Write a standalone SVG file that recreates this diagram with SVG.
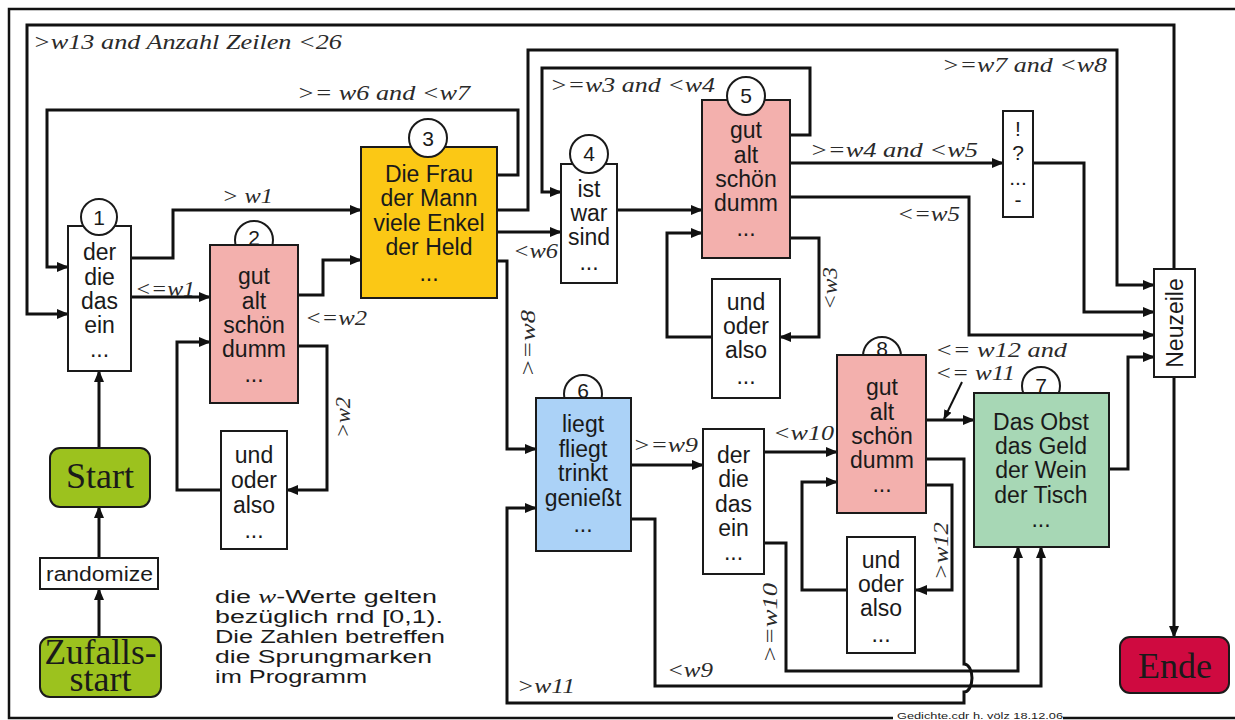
<svg xmlns="http://www.w3.org/2000/svg" width="1235" height="720" viewBox="0 0 1235 720">
<defs>
<marker id="ah" viewBox="0 0 12 10" refX="11" refY="5" markerWidth="12" markerHeight="10" markerUnits="userSpaceOnUse" orient="auto"><path d="M0,0L12,5L0,10z" fill="#111"/></marker>
<marker id="ah2" viewBox="0 0 10 8" refX="9" refY="4" markerWidth="10" markerHeight="8" markerUnits="userSpaceOnUse" orient="auto"><path d="M0,0L10,4L0,8z" fill="#111"/></marker>
</defs>
<style>
.c{fill:none;stroke:#111;stroke-width:3;marker-end:url(#ah)}
.b{stroke:#1a1a1a;stroke-width:2}
.t{font-family:"Liberation Sans",Arial,sans-serif;font-size:23px;fill:#1a1a1a;text-anchor:middle}
.n{font-family:"Liberation Sans",Arial,sans-serif;font-size:21px;fill:#1a1a1a;text-anchor:middle}
.l{font-family:"Liberation Serif","Times New Roman",serif;font-style:italic;font-size:22px;fill:#2a2a2a}
.s{font-family:"Liberation Serif","Times New Roman",serif;font-size:36px;fill:#1a1a1a;text-anchor:middle}
.note{font-family:"Liberation Sans",Arial,sans-serif;font-size:18px;fill:#1a1a1a}
.w{fill:#fff}
.pk{fill:#f3b0ad}
.ci{fill:#fff;stroke:#1a1a1a;stroke-width:2}
.gr{fill:#9cc21e}
</style>
<rect width="1235" height="720" fill="#fff"/>
<g id="frame" fill="none" stroke="#111" stroke-width="2.5">
<path d="M1235,9 H9 V718 H893 M1063,718 H1235"/>
</g>
<text x="897" y="719" font-family="Liberation Sans, Arial, sans-serif" font-size="9" fill="#222" textLength="166" lengthAdjust="spacingAndGlyphs">Gedichte.cdr   h. völz   18.12.06</text>

<g id="connectors">
<path class="c" d="M1174,269 V25 H27 V314 H68"/>
<path class="c" d="M497,175 H518 V110 H47 V267 H68"/>
<path class="c" d="M131,258 H173 V210 H361"/>
<path class="c" d="M131,297 H210"/>
<path class="c" d="M99,448 V371"/>
<path class="c" d="M99,557 V507"/>
<path class="c" d="M99,637 V589"/>
<path class="c" d="M298,295 H323 V260 H361"/>
<path class="c" d="M298,346 H327 V490 H287"/>
<path class="c" d="M221,490 H177 V342 H210"/>
<path class="c" d="M497,232 H561"/>
<path class="c" d="M497,210 H528 V50 H1117 V285 H1154"/>
<path class="c" d="M790,135 H810 V68 H542 V192 H561"/>
<path class="c" d="M617,210 H702"/>
<path class="c" d="M790,163 H1003"/>
<path class="c" d="M1033,163 H1084 V312 H1154"/>
<path class="c" d="M790,197 H969 V335 H1154"/>
<path class="c" d="M790,238 H819 V337 H780"/>
<path class="c" d="M712,337 H667 V233 H702"/>
<path class="c" d="M497,261 H507 V449 H536"/>
<path class="c" d="M631,465 H703"/>
<path class="c" d="M764,452 H837"/>
<path class="c" d="M764,543 H786 V671 H1018 V547"/>
<path class="c" d="M631,519 H655 V686 H1041 V547"/>
<path class="c" d="M926,459 H964 V664 A8 14 0 0 1 964 692 V703 H507 V508 H536"/>
<path class="c" d="M926,420 H974"/>
<path d="M962,382 L944,419" fill="none" stroke="#111" stroke-width="2" marker-end="url(#ah2)"/>
<path class="c" d="M926,485 H952 V590 H916"/>
<path class="c" d="M847,590 H802 V482 H837"/>
<path class="c" d="M1109,469 H1128 V357 H1154"/>
<path class="c" d="M1174,377 V637"/>
</g>

<g id="labels">
<text class="l" x="33" y="49" textLength="309" lengthAdjust="spacingAndGlyphs">&gt;w13 and Anzahl Zeilen &lt;26</text>
<text class="l" x="297" y="100" textLength="173" lengthAdjust="spacingAndGlyphs">&gt;= w6 and &lt;w7</text>
<text class="l" x="222" y="203" textLength="51" lengthAdjust="spacingAndGlyphs">&gt; w1</text>
<text class="l" x="135" y="296" textLength="60" lengthAdjust="spacingAndGlyphs">&lt;=w1</text>
<text class="l" x="305" y="325" textLength="62" lengthAdjust="spacingAndGlyphs">&lt;=w2</text>
<text class="l" transform="translate(350,438) rotate(-90)" textLength="41" lengthAdjust="spacingAndGlyphs">&gt;w2</text>
<text class="l" x="513" y="258" textLength="45" lengthAdjust="spacingAndGlyphs">&lt;w6</text>
<text class="l" x="550" y="92" textLength="165" lengthAdjust="spacingAndGlyphs">&gt;=w3 and &lt;w4</text>
<text class="l" x="942" y="72" textLength="165" lengthAdjust="spacingAndGlyphs">&gt;=w7 and &lt;w8</text>
<text class="l" x="810" y="157" textLength="168" lengthAdjust="spacingAndGlyphs">&gt;=w4 and &lt;w5</text>
<text class="l" x="897" y="221" textLength="63" lengthAdjust="spacingAndGlyphs">&lt;=w5</text>
<text class="l" transform="translate(837,310) rotate(-90)" textLength="43" lengthAdjust="spacingAndGlyphs">&lt;w3</text>
<text class="l" transform="translate(535,377) rotate(-90)" textLength="67" lengthAdjust="spacingAndGlyphs">&gt;=w8</text>
<text class="l" x="633" y="452" textLength="65" lengthAdjust="spacingAndGlyphs">&gt;=w9</text>
<text class="l" x="773" y="440" textLength="61" lengthAdjust="spacingAndGlyphs">&lt;w10</text>
<text class="l" x="935" y="357" textLength="132" lengthAdjust="spacingAndGlyphs">&lt;= w12 and</text>
<text class="l" x="935" y="380" textLength="80" lengthAdjust="spacingAndGlyphs">&lt;= w11</text>
<text class="l" transform="translate(948,580) rotate(-90)" textLength="58" lengthAdjust="spacingAndGlyphs">&gt;w12</text>
<text class="l" transform="translate(777,663) rotate(-90)" textLength="80" lengthAdjust="spacingAndGlyphs">&gt;=w10</text>
<text class="l" x="667" y="677" textLength="46" lengthAdjust="spacingAndGlyphs">&lt;w9</text>
<text class="l" x="517" y="693" textLength="58" lengthAdjust="spacingAndGlyphs">&gt;w11</text>
</g>

<g id="n1">
<rect class="w b" x="68" y="226" width="63" height="145"/>
<circle class="ci" cx="99" cy="217" r="18"/>
<text class="n" x="99" y="225">1</text>
<text class="t" x="99.5" y="260">der</text>
<text class="t" x="99.5" y="285">die</text>
<text class="t" x="99.5" y="309">das</text>
<text class="t" x="99.5" y="333">ein</text>
<text class="t" x="99.5" y="357">...</text>
</g>
<g id="n2">
<circle class="ci" cx="254" cy="240" r="19"/>
<rect class="pk b" x="210" y="245" width="88" height="158"/>
<text class="n" x="254" y="245">2</text>
<text class="t" x="254" y="284">gut</text>
<text class="t" x="254" y="309">alt</text>
<text class="t" x="254" y="333">schön</text>
<text class="t" x="254" y="357">dumm</text>
<text class="t" x="254" y="382">...</text>
</g>
<g id="und1">
<rect class="w b" x="221" y="431" width="66" height="118"/>
<text class="t" x="254" y="463">und</text>
<text class="t" x="254" y="488">oder</text>
<text class="t" x="254" y="513">also</text>
<text class="t" x="254" y="538">...</text>
</g>
<g id="n3">
<rect class="b" fill="#fbc815" x="361" y="147" width="136" height="151"/>
<circle class="ci" cx="428" cy="138" r="19"/>
<text class="n" x="428" y="146">3</text>
<text class="t" x="429" y="182">Die Frau</text>
<text class="t" x="429" y="206">der Mann</text>
<text class="t" x="429" y="231">viele Enkel</text>
<text class="t" x="429" y="255">der Held</text>
<text class="t" x="429" y="281">...</text>
</g>
<g id="n4">
<rect class="w b" x="561" y="164" width="56" height="119"/>
<circle class="ci" cx="589" cy="154" r="19"/>
<text class="n" x="589" y="161">4</text>
<text class="t" x="589" y="197">ist</text>
<text class="t" x="589" y="221">war</text>
<text class="t" x="589" y="245">sind</text>
<text class="t" x="589" y="270">...</text>
</g>
<g id="n5">
<rect class="pk b" x="702" y="100" width="88" height="158"/>
<circle class="ci" cx="746" cy="96" r="19"/>
<text class="n" x="746" y="103">5</text>
<text class="t" x="746" y="138">gut</text>
<text class="t" x="746" y="163">alt</text>
<text class="t" x="746" y="187">schön</text>
<text class="t" x="746" y="211">dumm</text>
<text class="t" x="746" y="236">...</text>
</g>
<g id="und2">
<rect class="w b" x="712" y="279" width="68" height="119"/>
<text class="t" x="746" y="310">und</text>
<text class="t" x="746" y="334">oder</text>
<text class="t" x="746" y="358">also</text>
<text class="t" x="746" y="384">...</text>
</g>
<g id="punct">
<rect class="w b" x="1003" y="111" width="30" height="106"/>
<text class="n" x="1018" y="136">!</text>
<text class="n" x="1018" y="160">?</text>
<text class="n" x="1018" y="185">...</text>
<text class="n" x="1018" y="207">-</text>
</g>
<g id="n6">
<circle class="ci" cx="583" cy="394" r="19"/>
<rect class="b" fill="#abd2f7" x="536" y="398" width="95" height="153"/>
<text class="n" x="583" y="398">6</text>
<text class="t" x="583" y="432">liegt</text>
<text class="t" x="583" y="457">fliegt</text>
<text class="t" x="583" y="481">trinkt</text>
<text class="t" x="583" y="506">genießt</text>
<text class="t" x="583" y="532">...</text>
</g>
<g id="art2">
<rect class="w b" x="703" y="429" width="61" height="145"/>
<text class="t" x="733.5" y="463">der</text>
<text class="t" x="733.5" y="487">die</text>
<text class="t" x="733.5" y="512">das</text>
<text class="t" x="733.5" y="536">ein</text>
<text class="t" x="733.5" y="560">...</text>
</g>
<g id="n8">
<circle class="ci" cx="882" cy="356" r="19"/>
<rect class="pk b" x="837" y="355" width="89" height="158"/>
<text class="n" x="882" y="356">8</text>
<text class="t" x="882" y="395">gut</text>
<text class="t" x="882" y="420">alt</text>
<text class="t" x="882" y="444">schön</text>
<text class="t" x="882" y="468">dumm</text>
<text class="t" x="882" y="492">...</text>
</g>
<g id="und3">
<rect class="w b" x="847" y="537" width="68" height="116"/>
<text class="t" x="881" y="568">und</text>
<text class="t" x="881" y="592">oder</text>
<text class="t" x="881" y="616">also</text>
<text class="t" x="881" y="642">...</text>
</g>
<g id="n7">
<circle class="ci" cx="1041" cy="386" r="19"/>
<rect class="b" fill="#a7d7b5" x="974" y="393" width="135" height="154"/>
<text class="n" x="1041" y="393">7</text>
<text class="t" x="1041" y="430">Das Obst</text>
<text class="t" x="1041" y="454">das Geld</text>
<text class="t" x="1041" y="478">der Wein</text>
<text class="t" x="1041" y="503">der Tisch</text>
<text class="t" x="1041" y="527">...</text>
</g>
<g id="neuzeile">
<rect class="w b" x="1154" y="269" width="41" height="108"/>
<text class="t" transform="translate(1183,323) rotate(-90)" font-size="22">Neuzeile</text>
</g>
<g id="start">
<rect class="gr b" x="50" y="448" width="100" height="59" rx="10"/>
<text class="s" x="100" y="488" font-size="35">Start</text>
</g>
<g id="randomize">
<rect class="w b" x="40" y="558" width="118" height="31"/>
<text x="46" y="581" font-family="Liberation Sans, Arial, sans-serif" font-size="20" fill="#1a1a1a" textLength="107" lengthAdjust="spacingAndGlyphs">randomize</text>
</g>
<g id="zufallsstart">
<rect class="gr b" x="40" y="637" width="121" height="60" rx="10"/>
<text class="s" x="100.5" y="664" font-size="33" textLength="112" lengthAdjust="spacingAndGlyphs">Zufalls-</text>
<text class="s" x="100.5" y="691" font-size="33">start</text>
</g>
<g id="ende">
<rect class="b" fill="#cf0a40" x="1120" y="637" width="109" height="56" rx="10"/>
<text class="s" x="1175" y="678" fill="#1a0008">Ende</text>
</g>
<g id="note">
<text class="note" x="215" y="603" textLength="222" lengthAdjust="spacingAndGlyphs">die <tspan font-family="Liberation Serif, Times New Roman, serif" font-style="italic">w</tspan>-Werte gelten</text>
<text class="note" x="215" y="623" textLength="228" lengthAdjust="spacingAndGlyphs">bezüglich rnd [0,1).</text>
<text class="note" x="215" y="643" textLength="230" lengthAdjust="spacingAndGlyphs">Die Zahlen betreffen</text>
<text class="note" x="215" y="663" textLength="217" lengthAdjust="spacingAndGlyphs">die Sprungmarken</text>
<text class="note" x="215" y="683" textLength="152" lengthAdjust="spacingAndGlyphs">im Programm</text>
</g>
</svg>
